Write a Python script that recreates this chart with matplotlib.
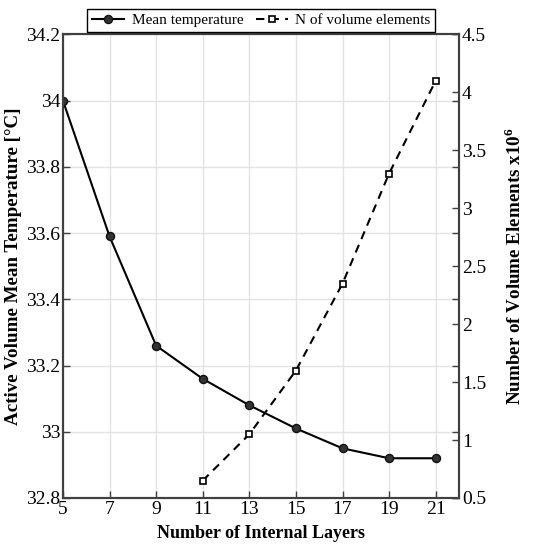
import matplotlib
matplotlib.use("Agg")
import matplotlib.pyplot as plt
from matplotlib.ticker import FuncFormatter

# data
layers = [5, 7, 9, 11, 13, 15, 17, 19, 21]
mean_temp = [34.0, 33.59, 33.26, 33.16, 33.08, 33.01, 32.95, 32.92, 32.92]
elem_layers = [11, 13, 15, 17, 19, 21]
n_elements = [0.65, 1.05, 1.6, 2.35, 3.3, 4.1]

x_ticks = [5, 7, 9, 11, 13, 15, 17, 19, 21]
left_ticks = [32.8, 33.0, 33.2, 33.4, 33.6, 33.8, 34.0, 34.2]
right_ticks = [0.5, 1.0, 1.5, 2.0, 2.5, 3.0, 3.5, 4.0, 4.5]

plt.rcParams['font.family'] = ['Liberation Serif', 'DejaVu Serif']
plt.rcParams['mathtext.fontset'] = 'custom'
plt.rcParams['mathtext.rm'] = 'Liberation Serif'
plt.rcParams['mathtext.bf'] = 'Liberation Serif:bold'

fig = plt.figure(figsize=(5.5, 5.47), dpi=100)
ax = fig.add_axes([0.1145, 0.0896, 0.72, 0.8474])
ax2 = ax.twinx()

spine_col = '#404040'

l1, = ax.plot(layers, mean_temp, '-', color='black', lw=1.5, marker='o',
              ms=5.8, mfc='#333333', mec='#111111', label='Mean temperature')
l2, = ax2.plot(elem_layers, n_elements, '--', color='black', lw=1.5, marker='s',
               ms=4.5, mfc='white', mec='black', mew=1.2, dashes=(4, 3),
               label='N of volume elements')

ax.set_xlim(5, 22)
ax.set_ylim(32.8, 34.2)
ax2.set_ylim(0.5, 4.5)
ax.set_xticks(x_ticks)
ax.set_yticks(left_ticks)
ax2.set_yticks(right_ticks)

fmt = FuncFormatter(lambda v, p: ('%g' % round(v, 2)))
ax.yaxis.set_major_formatter(fmt)
ax2.yaxis.set_major_formatter(fmt)

ax.grid(True, color='#e3e3e3', lw=1.0)
ax.set_axisbelow(True)

ax.tick_params(axis='both', direction='in', length=5, width=1.0, labelsize=14,
               colors=spine_col, labelcolor='black', right=True, labelright=False, pad=2)
ax2.tick_params(axis='y', direction='in', length=5, width=1.0, labelsize=14,
                colors=spine_col, labelcolor='black', pad=2)

for a in (ax, ax2):
    for s in a.spines.values():
        s.set_color(spine_col)
        s.set_linewidth(1.5)

ax.set_xlabel('Number of Internal Layers', fontsize=13, fontweight='bold', labelpad=5)
ax.set_ylabel('Active Volume Mean Temperature [°C]', fontsize=13.7, fontweight='bold')
ax.yaxis.set_label_coords(-0.103, 0.5)
ax2.set_ylabel(r'Number of Volume Elements x10$^\mathbf{6}$', fontsize=13.7, fontweight='bold')
ax2.yaxis.set_label_coords(1.113, 0.5)

leg = fig.legend([l1, l2], ['Mean temperature', 'N of volume elements'], loc='center',
                 bbox_to_anchor=(0.475, 0.963), ncol=2, fontsize=11, frameon=True,
                 fancybox=False, edgecolor='black', framealpha=1, borderpad=0.3,
                 handlelength=2.1, handletextpad=0.5, columnspacing=0.8)
leg.get_frame().set_linewidth(1.0)

fig.savefig('out.png', dpi=100)
